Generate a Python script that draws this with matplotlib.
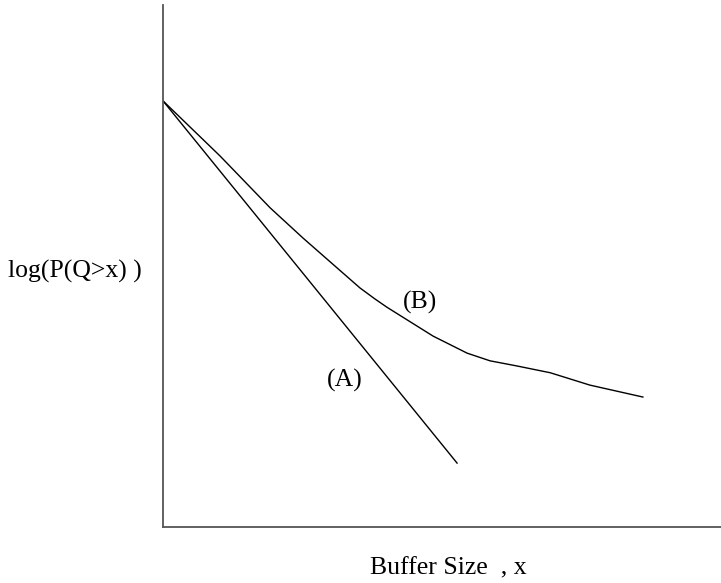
import matplotlib
matplotlib.use("Agg")
import matplotlib.pyplot as plt

# buffer size (arbitrary units) and log tail probability for the two curves
buffer_a = [0.0, 5.27]
logp_a = [0.0, -8.50]

buffer_b = [0.0, 1.02, 1.92, 2.51, 3.12, 3.53, 3.80, 4.01, 4.84, 5.45,
            5.86, 6.34, 6.94, 7.65, 8.60]
logp_b = [0.0, -1.29, -2.51, -3.22, -3.92, -4.39, -4.65, -4.84, -5.52, -5.92,
          -6.10, -6.22, -6.38, -6.67, -6.95]

curve_labels = ["(A)", "(B)"]
label_pos = [(3.26, -6.55), (4.61, -4.72)]

plt.rcParams["font.family"] = ["Liberation Serif", "DejaVu Serif"]

fig = plt.figure(figsize=(7.21, 5.83), dpi=100)
ax = fig.add_axes([163 / 721, 1 - 527 / 583, 1 - 163 / 721, 522 / 583])

ax.plot(buffer_a, logp_a, color="black", lw=1.0, solid_joinstyle="round")
ax.plot(buffer_b, logp_b, color="black", lw=1.0, solid_joinstyle="round")

for text, (x, y) in zip(curve_labels, label_pos):
    ax.text(x, y, text, ha="center", va="center", fontsize=18.5)

ax.set_xlim(0, 10)
ax.set_ylim(-10, 2.25)
ax.set_xticks([])
ax.set_yticks([])
for side in ("top", "right"):
    ax.spines[side].set_visible(False)
for side in ("left", "bottom"):
    ax.spines[side].set_color("#555555")
    ax.spines[side].set_linewidth(1.3)

fig.text(75 / 721, 1 - 271 / 583, "log(P(Q>x) )", ha="center", va="center", fontsize=18.5)
fig.text(448 / 721, 1 - 568 / 583, "Buffer Size  , x", ha="center", va="center", fontsize=18.5)

fig.savefig("out.png", dpi=100)
